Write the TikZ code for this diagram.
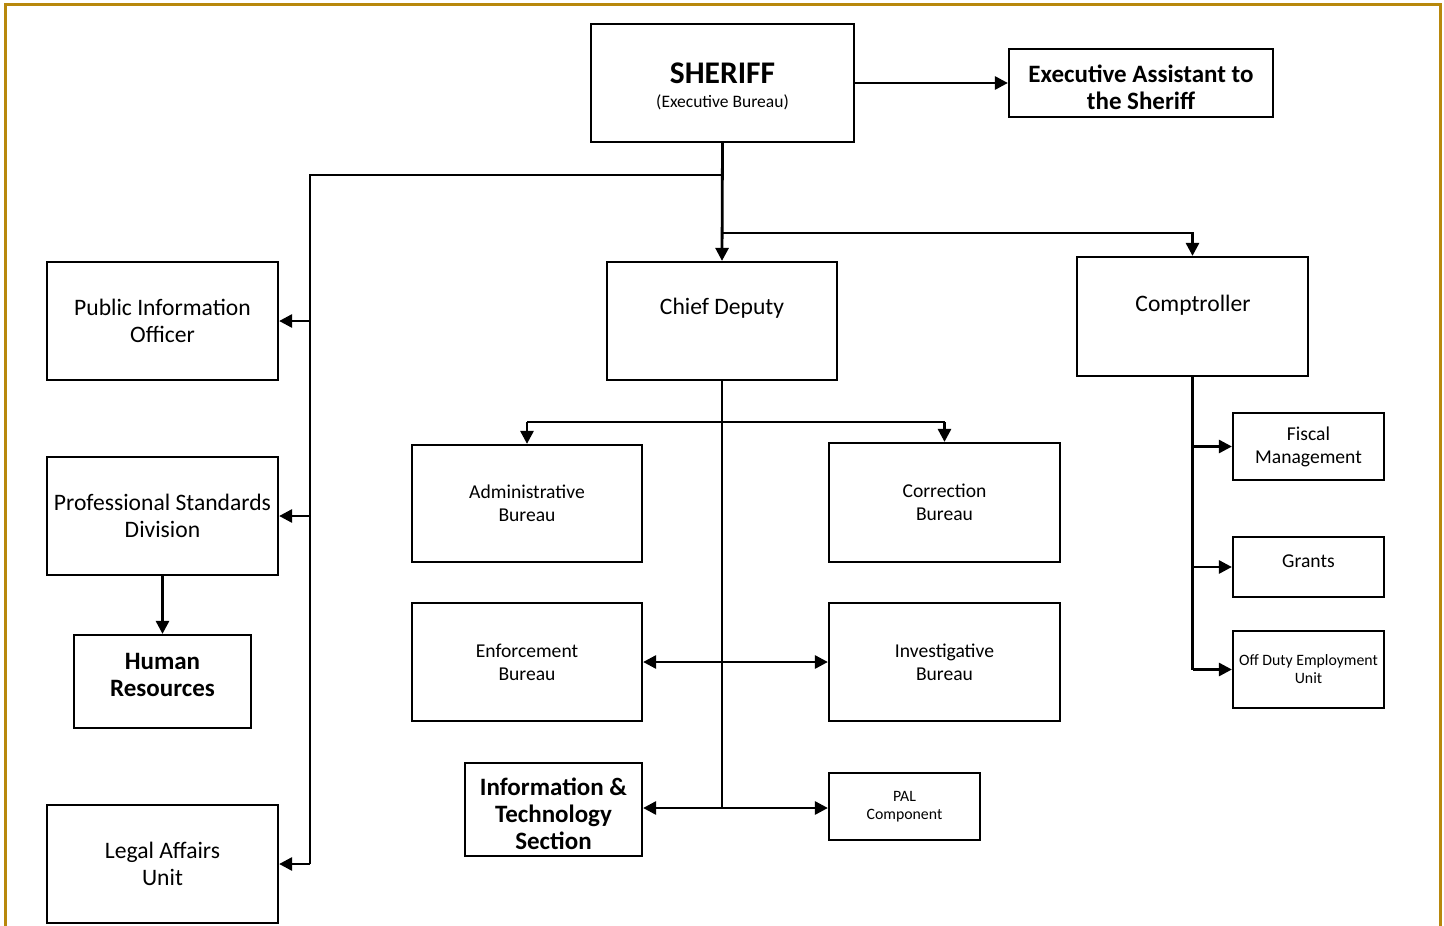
\documentclass[tikz,border=0pt]{standalone}
\usepackage{fontspec}
\setmainfont{Carlito}
\usetikzlibrary{arrows.meta}
\definecolor{gold}{RGB}{184,136,12}
\tikzset{
  box/.style={draw=black, line width=2.2pt, inner sep=0pt, align=center, fill=white},
  txt/.style={inner sep=0pt, align=center},
  conn/.style={line width=2.8pt, black},
  tip/.tip={Triangle[length=13pt,width=13pt]},
  fbig/.style={font=\fontsize{23.6}{27}\selectfont},
  fbold/.style={font=\bfseries\fontsize{25}{27}\selectfont},
  fmid/.style={font=\fontsize{19.6}{23}\selectfont},
  fsmall/.style={font=\fontsize{15.8}{18}\selectfont},
}
\begin{document}
\begin{tikzpicture}[x=1pt,y=-1pt]
\useasboundingbox (0,0) rectangle (1444,926);
\draw[gold, line width=2.8pt] (5.3,926) -- (5.3,4.5) -- (1440.5,4.5) -- (1440.5,926);

% boxes
\node[box, minimum width=263pt, minimum height=118pt] (sheriff) at (722.5,83) {};
\node[txt, font=\bfseries\fontsize{31.5}{32}\selectfont] (sheriffT) at (722.5,73) {SHERIFF};
\node[txt, font=\fontsize{17.5}{20}\selectfont] (sheriffB) at (722.5,102) {(Executive Bureau)};
\node[box, fbold, minimum width=264pt, minimum height=68pt] (exec) at (1141,83) {};
\node[txt, fbold] (execT) at (1141,87) {Executive Assistant to\\the Sheriff};
\node[box, minimum width=230pt, minimum height=118pt] (chief) at (722,321) {};
\node[txt, fbig] (chieft) at (722,308) {Chief Deputy};
\node[box, minimum width=231pt, minimum height=119pt] (comp) at (1192.5,316.5) {};
\node[txt, fbig] (compt) at (1193,305) {Comptroller};
\node[box, fbig, minimum width=231pt, minimum height=118pt] (pio) at (162.5,321) {Public Information\\Officer};
\node[box, fbig, minimum width=231pt, minimum height=118pt] (psd) at (162.5,516) {Professional Standards\\Division};
\node[box, minimum width=177pt, minimum height=93pt] (hr) at (162.5,681.5) {};
\node[txt, fbold] (hrt) at (162.5,675) {Human\\Resources};
\node[box, fbig, minimum width=231pt, minimum height=118pt] (legal) at (162.5,864) {Legal Affairs\\Unit};
\node[box, fmid, minimum width=230pt, minimum height=117pt] (admin) at (527,503.5) {Administrative\\Bureau};
\node[box, fmid, minimum width=231pt, minimum height=119pt] (corr) at (944.5,502.5) {Correction\\Bureau};
\node[box, fmid, minimum width=230pt, minimum height=118pt] (enf) at (527,662) {Enforcement\\Bureau};
\node[box, fmid, minimum width=231pt, minimum height=118pt] (inv) at (944.5,662) {Investigative\\Bureau};
\node[box, minimum width=177pt, minimum height=93pt] (it) at (553.5,809.5) {};
\node[txt, fbold] (itt) at (553.5,814) {Information \&\\Technology\\Section};
\node[box, fsmall, minimum width=151pt, minimum height=67pt] (pal) at (904.5,806.5) {PAL\\Component};
\node[box, fmid, minimum width=151pt, minimum height=67pt] (fiscal) at (1308.5,446.5) {Fiscal\\Management};
\node[box, minimum width=151pt, minimum height=60pt] (grants) at (1308.5,567) {};
\node[txt, fmid] (grantst) at (1308.5,561) {Grants};
\node[box, fsmall, minimum width=151pt, minimum height=77pt] (off) at (1308.5,669.5) {Off Duty Employment\\Unit};

% junction coordinates
\coordinate (jL) at (722,175);
\coordinate (tTop) at (310,175);
\coordinate (tBot) at (310,864);
\coordinate (jR) at (722,233);
\coordinate (cdBot) at (722,808);
\coordinate (barL) at (527,422);
\coordinate (barR) at (944.5,422);
\coordinate (cBot) at (1192.5,669.5);

% connectors
\draw[conn,-tip] (sheriff.east) -- (exec.west);
\draw[conn,-tip] (sheriff.south) -- (chief.north);
\draw[conn] (jL) -- (tTop) -- (tBot);
\draw[conn,-tip] (tTop |- pio.east) -- (pio.east);
\draw[conn,-tip] (tTop |- psd.east) -- (psd.east);
\draw[conn,-tip] (tTop |- legal.east) -- (legal.east);
\draw[conn,-tip] (psd.south) -- (hr.north);
\draw[conn,-tip] (jR) -| (comp.north);
\draw[conn] (chief.south) -- (cdBot);
\draw[conn] (barL) -- (barR);
\draw[conn,-tip] (barL) -- (admin.north);
\draw[conn,-tip] (barR) -- (corr.north);
\draw[conn,tip-tip] (enf.east) -- (inv.west);
\draw[conn,-tip] (cdBot) -- (cdBot -| it.east);
\draw[conn,-tip] (cdBot) -- (cdBot -| pal.west);
\draw[conn] (comp.south) -- (cBot);
\draw[conn,-tip] (comp.south |- fiscal.west) -- (fiscal.west);
\draw[conn,-tip] (comp.south |- grants.west) -- (grants.west);
\draw[conn,-tip] (cBot) -- (off.west);
\end{tikzpicture}
\end{document}
